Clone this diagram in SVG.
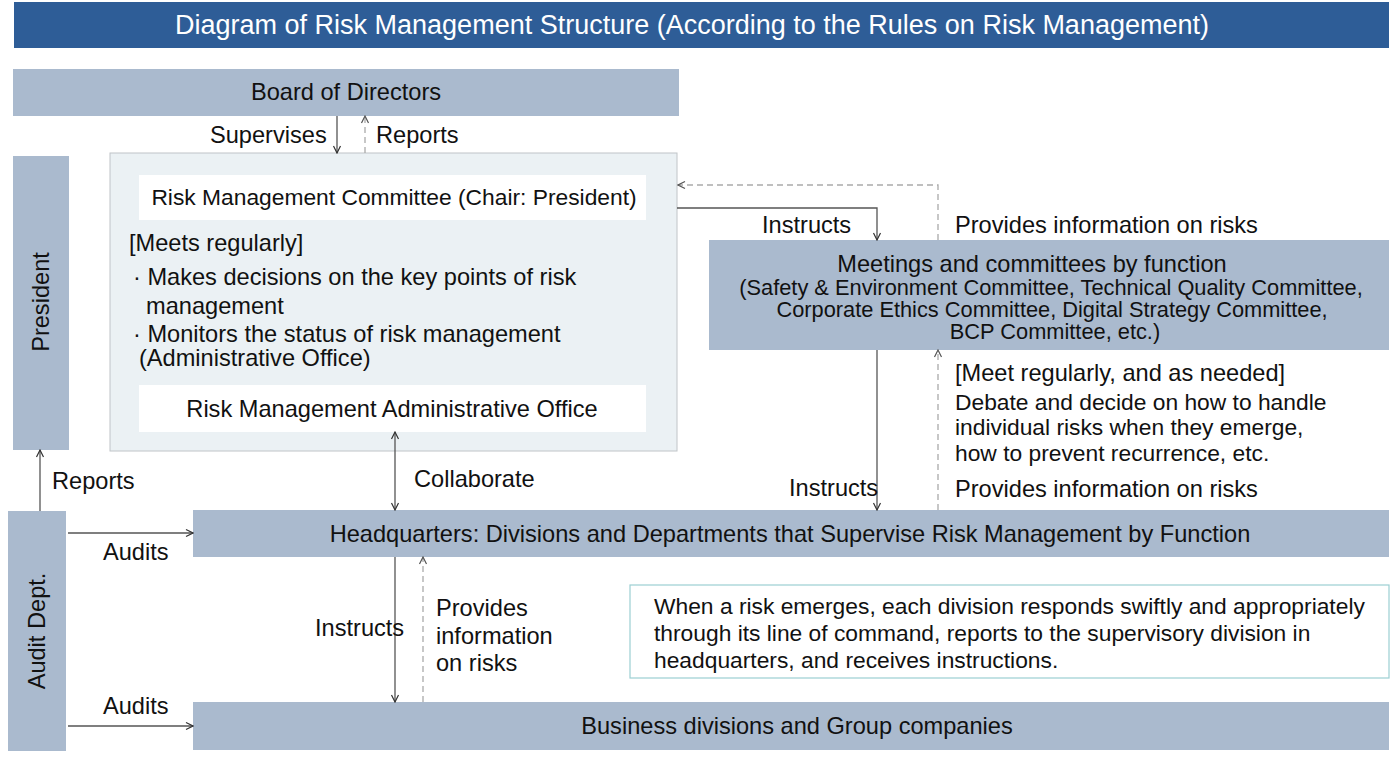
<svg xmlns="http://www.w3.org/2000/svg" width="1400" height="758" viewBox="0 0 1400 758">
<defs>
<marker id="ah" viewBox="0 0 10 10" refX="9" refY="5" markerWidth="10" markerHeight="10" markerUnits="userSpaceOnUse" orient="auto-start-reverse">
<path d="M2,1.5 L9,5 L2,8.5" fill="none" stroke="#333" stroke-width="1.2"/>
</marker>
<marker id="ahd" viewBox="0 0 10 10" refX="9" refY="5" markerWidth="10" markerHeight="10" markerUnits="userSpaceOnUse" orient="auto-start-reverse">
<path d="M2,1.5 L9,5 L2,8.5" fill="none" stroke="#555" stroke-width="1.2"/>
</marker>
</defs>
<style>
text{font-family:"Liberation Sans",Arial,sans-serif;fill:#111;font-size:23.6px}
.box{fill:#AABACE}
.c{text-anchor:middle}
.solid{fill:none;stroke:#555;stroke-width:1.3}
.dash{fill:none;stroke:#AAAAAA;stroke-width:1.3;stroke-dasharray:6,4}
.sm{font-size:21.8px}
.md{font-size:22.8px}
</style>
<rect width="1400" height="758" fill="#fff"/>
<g id="title">
<rect x="14" y="2" width="1375" height="46" fill="#2E5D97"/>
<text x="692" y="34" class="c" style="fill:#fff;font-size:27px">Diagram of Risk Management Structure (According to the Rules on Risk Management)</text>
</g>
<g id="board">
<rect x="13" y="69" width="666" height="47" class="box"/>
<text x="346" y="100" class="c">Board of Directors</text>
</g>
<g id="president">
<rect x="13" y="156" width="56" height="294" class="box"/>
<text transform="translate(49,302) rotate(-90)" class="c">President</text>
</g>
<g id="audit">
<rect x="8" y="511" width="58" height="240" class="box"/>
<text transform="translate(45,631) rotate(-90)" class="c">Audit Dept.</text>
</g>
<g id="committee">
<rect x="110" y="153" width="567" height="298" fill="#EBF1F4" stroke="#C0C4C8" stroke-width="1"/>
<rect x="139" y="175" width="507" height="45" fill="#fff"/>
<text x="394" y="205" class="c md">Risk Management Committee (Chair: President)</text>
<text x="129" y="251">[Meets regularly]</text>
<text x="133" y="285">· Makes decisions on the key points of risk</text>
<text x="146" y="314">management</text>
<text x="133" y="342">· Monitors the status of risk management</text>
<text x="139" y="366">(Administrative Office)</text>
<rect x="139" y="385" width="507" height="47" fill="#fff"/>
<text x="392" y="417" class="c">Risk Management Administrative Office</text>
</g>
<g id="meetings">
<rect x="709" y="240" width="680" height="110" class="box"/>
<text x="1032" y="272" class="c">Meetings and committees by function</text>
<text x="1051" y="295" class="c sm">(Safety &amp; Environment Committee, Technical Quality Committee,</text>
<text x="1052" y="317" class="c sm">Corporate Ethics Committee, Digital Strategy Committee,</text>
<text x="1055" y="339" class="c sm">BCP Committee, etc.)</text>
</g>
<g id="hq">
<rect x="193" y="510" width="1196" height="47" class="box"/>
<text x="790" y="542" class="c">Headquarters: Divisions and Departments that Supervise Risk Management by Function</text>
</g>
<g id="business">
<rect x="193" y="702" width="1196" height="48" class="box"/>
<text x="797" y="734" class="c">Business divisions and Group companies</text>
</g>
<g id="note">
<rect x="630" y="585" width="759" height="93" fill="#fff" stroke="#9CCFD3" stroke-width="1.2"/>
<text x="654" y="614" class="md">When a risk emerges, each division responds swiftly and appropriately</text>
<text x="654" y="641" class="md">through its line of command, reports to the supervisory division in</text>
<text x="654" y="668" class="md">headquarters, and receives instructions.</text>
</g>
<g id="connectors">
<path d="M337,116 V153" class="solid" marker-end="url(#ah)"/>
<path d="M365,153 V116" class="dash" marker-end="url(#ahd)"/>
<path d="M677,208 H877 V240" class="solid" marker-end="url(#ah)"/>
<path d="M938,240 V185 H678" class="dash" marker-end="url(#ahd)"/>
<path d="M877,350 V510" class="solid" marker-end="url(#ah)"/>
<path d="M938,510 V350" class="dash" marker-end="url(#ahd)"/>
<path d="M395,432 V510" class="solid" marker-start="url(#ah)" marker-end="url(#ah)"/>
<path d="M40,511 V450" class="solid" marker-end="url(#ah)"/>
<path d="M68,533 H193" class="solid" marker-end="url(#ah)"/>
<path d="M68,726 H193" class="solid" marker-end="url(#ah)"/>
<path d="M395,557 V702" class="solid" marker-end="url(#ah)"/>
<path d="M423,702 V557" class="dash" marker-end="url(#ahd)"/>
</g>
<g id="labels">
<text x="210" y="143">Supervises</text>
<text x="376" y="143">Reports</text>
<text x="762" y="233">Instructs</text>
<text x="955" y="233">Provides information on risks</text>
<text x="955" y="381">[Meet regularly, and as needed]</text>
<text x="955" y="410" class="md">Debate and decide on how to handle</text>
<text x="955" y="435" class="md">individual risks when they emerge,</text>
<text x="955" y="461" class="md">how to prevent recurrence, etc.</text>
<text x="955" y="497">Provides information on risks</text>
<text x="789" y="496">Instructs</text>
<text x="414" y="487">Collaborate</text>
<text x="52" y="489">Reports</text>
<text x="103" y="560">Audits</text>
<text x="103" y="714">Audits</text>
<text x="315" y="636">Instructs</text>
<text x="436" y="616">Provides</text>
<text x="436" y="644">information</text>
<text x="436" y="671">on risks</text>
</g>
</svg>
